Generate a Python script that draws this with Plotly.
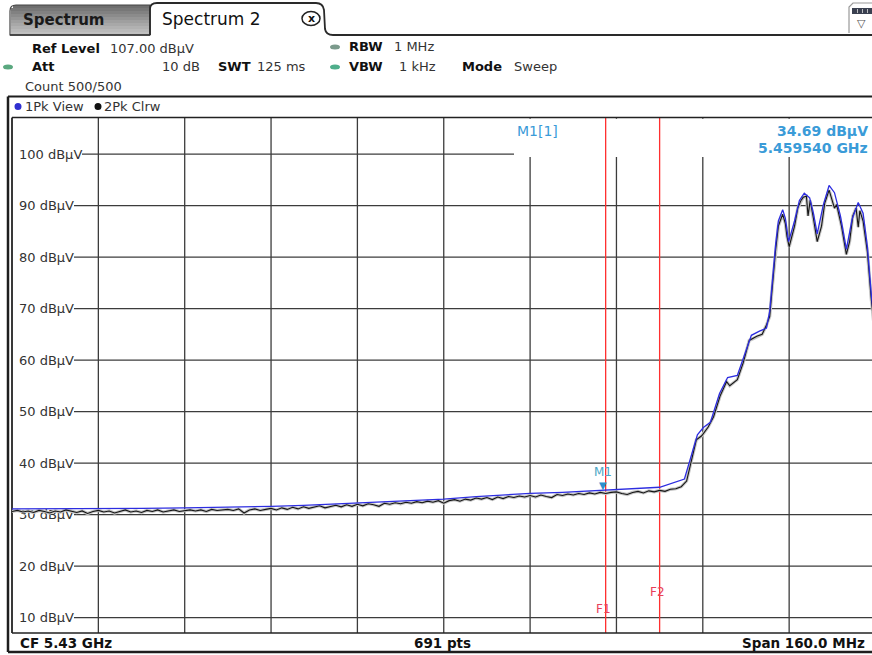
import plotly.graph_objects as go

# ---------------- data ----------------
# Trace 1 (1Pk View, max hold) : frequency in MHz, level in dBuV
freq_view = [5350, 5358, 5366, 5374, 5382, 5390, 5398, 5404, 5410, 5416, 5422,
             5430, 5436, 5442, 5446, 5452, 5459.54, 5465, 5470, 5474.6,
             5475.5, 5477.0, 5478.1, 5479.4, 5481.1, 5482.6, 5484.4, 5485.7,
             5487.0, 5488.5, 5489.8, 5490.4, 5490.9, 5491.5, 5492.0, 5492.8,
             5493.3, 5493.9, 5495.0, 5495.9, 5496.8, 5497.8, 5498.5, 5499.2,
             5500.3, 5501.4, 5502.4, 5503.5, 5504.6, 5505.7, 5506.8, 5507.7,
             5508.5, 5509.2, 5510.0]
level_view = [31.1, 31.1, 31.2, 31.2, 31.3, 31.4, 31.6, 31.8, 32.1, 32.4, 32.7,
              33.0, 33.5, 33.9, 34.1, 34.3, 34.69, 35.0, 35.3, 36.9,
              40.0, 45.5, 46.9, 47.9, 53.5, 56.6, 57.0, 61.0,
              64.8, 65.6, 66.2, 69.5, 75.5, 82.5, 87.0, 89.2,
              87.5, 83.0, 87.0, 91.0, 92.4, 91.5, 88.5, 84.5,
              90.0, 93.9, 92.5, 88.0, 81.5, 87.5, 90.6, 88.5,
              82.0, 73.0, 65.0]

# Trace 2 (2Pk Clrw) : noise floor on 1 MHz sweep bins, then the channel
freq_clrw_floor = list(range(5350, 5475))
level_clrw_floor = [
    30.6, 30.8, 30.5, 30.7, 30.4, 30.8, 30.6, 30.3,
    30.7, 30.5, 30.9, 30.6, 30.4, 30.7, 30.2, 30.6,
    30.8, 30.5, 30.7, 30.3, 30.6, 30.9, 30.5, 30.7,
    30.4, 30.8, 30.6, 30.9, 30.5, 30.7, 30.9, 30.6,
    30.8, 30.9, 30.7, 30.9, 30.6, 31.0, 30.8, 30.9,
    31.0, 30.8, 31.1, 30.3, 30.9, 31.1, 30.8, 31.0,
    31.2, 30.9, 31.3, 31.0, 31.4, 31.1, 31.5, 31.2,
    31.4, 31.7, 31.3, 31.6, 31.8, 31.5, 31.9, 31.6,
    32.0, 31.7, 32.1, 31.9, 31.6, 32.2, 32.0, 32.3,
    32.1, 32.4, 32.2, 32.5, 32.3, 32.6, 32.4, 32.7,
    32.2, 32.7, 32.9, 32.6, 33.0, 32.8, 33.2, 33.0,
    33.3, 32.9, 33.4, 33.1, 33.5, 33.3, 33.6, 33.4,
    33.7, 33.4, 33.8, 33.5, 33.3, 33.9, 33.7, 34.0,
    33.8, 34.1, 33.9, 34.2, 34.0, 34.3, 34.1, 34.3,
    34.4, 34.1, 33.9, 34.3, 34.5, 34.2, 34.6, 34.4,
    34.7, 34.5, 34.9, 35.0, 35.4]
freq_clrw_band = [5475.0, 5475.7, 5476.8, 5477.8, 5479.0, 5480.0, 5481.2, 5482.4,
                  5483.0, 5484.4, 5485.5, 5486.6, 5488.0, 5489.0, 5489.8, 5490.4,
                  5490.9, 5491.5, 5492.0, 5492.8, 5493.3, 5493.6, 5494.0, 5494.4,
                  5495.0, 5495.6, 5496.2, 5496.6, 5497.2, 5497.5, 5497.9, 5498.5,
                  5499.2, 5500.0, 5500.6, 5501.4, 5502.0, 5502.4, 5502.8, 5503.7,
                  5504.6, 5505.2, 5505.8, 5506.4, 5506.8, 5507.1, 5507.7, 5508.5,
                  5509.2, 5510.0]
level_clrw_band = [36.5, 39.5, 44.5, 45.3, 47.0, 49.0, 53.0, 55.8,
                   55.0, 56.2, 59.5, 63.8, 64.6, 65.0, 66.8, 68.5,
                   74.5, 81.5, 86.0, 88.3, 86.5, 84.0, 82.0, 83.5,
                   86.0, 89.5, 91.0, 91.6, 91.8, 88.0, 91.0, 87.5,
                   83.0, 86.0, 90.5, 93.0, 91.0, 89.5, 90.2, 86.0,
                   80.5, 83.0, 88.0, 89.5, 85.8, 89.0, 87.0, 81.0,
                   72.0, 64.0]
freq_clrw = freq_clrw_floor + freq_clrw_band
level_clrw = level_clrw_floor + level_clrw_band

# display settings of the analyzer
center_mhz = 5430.0
span_mhz = 160.0
ref_level = 107.0
range_db = 100.0
y_ticks = [10, 20, 30, 40, 50, 60, 70, 80, 90, 100]
y_tick_text = [f"{v} dBµV" for v in y_ticks]
marker_freq = 5459.54
marker_level = 34.69
f1_freq = 5460.0
f2_freq = 5470.0

# ---------------- geometry ----------------
W, H = 872, 655
L, R, T, B = 12, 0, 118, 22
PW, PH = W - L - R, H - T - B
DIV_PX = 863.5                      # pixels per 160 MHz span
x_lo = center_mhz - span_mhz / 2
x_hi = x_lo + span_mhz * PW / DIV_PX
y_lo, y_hi = ref_level - range_db, ref_level
FONT = "DejaVu Sans"


def X(p):
    return (p - L) / PW


def Y(p):
    return (H - B - p) / PH


def FX(f):
    return (f - x_lo) / (x_hi - x_lo)


def path(pts, close=False):
    s = "M " + " L ".join(f"{X(a):.5f},{Y(b):.5f}" for a, b in pts)
    return s + (" Z" if close else "")


shapes = []
ann = []


def line(x0, y0, x1, y1, color="#2a2a2a", width=1.3):
    shapes.append(dict(type="line", xref="paper", yref="paper", layer="below",
                       x0=x0, y0=y0, x1=x1, y1=y1,
                       line=dict(color=color, width=width)))


def rect(x0, y0, x1, y1, fill, lc="rgba(0,0,0,0)", lw=0):
    shapes.append(dict(type="rect", xref="paper", yref="paper", layer="below",
                       x0=X(x0), y0=Y(y0), x1=X(x1), y1=Y(y1),
                       fillcolor=fill, line=dict(color=lc, width=lw)))


def text(x, y, s, size=13, bold=False, color="#333", anchor="left"):
    ann.append(dict(xref="paper", yref="paper", x=X(x), y=Y(y),
                    text=f"<b>{s}</b>" if bold else s, showarrow=False,
                    xanchor=anchor, yanchor="middle",
                    font=dict(family=FONT, size=size, color=color)))


# ---------------- grid ----------------
f = x_lo
while f <= x_hi + 1e-9:
    line(FX(f), Y(118), FX(f), Y(633), "#3c3c3c", 1.3)
    f += span_mhz / 10
for v in y_ticks:
    start = 82 if v >= 100 else 74
    line(X(start), (v - y_lo) / (y_hi - y_lo), 1.05, (v - y_lo) / (y_hi - y_lo), "#3c3c3c", 1.3)

# marker readout field
rect(514, 118.8, 880, 157, "white")

# display lines F1 / F2
for fl in (f1_freq, f2_freq):
    line(FX(fl), Y(118), FX(fl), Y(633), "#ff3030", 1.3)

# frame lines
line(X(12), Y(117.5), X(880), Y(117.5), "#222", 1.5)
line(X(12), Y(117.5), X(12), Y(633), "#222", 1.5)
line(X(12), Y(633), X(880), Y(633), "#222", 1.5)
line(X(8), Y(96.5), X(880), Y(96.5), "#1e1e1e", 2)
line(X(8), Y(96.5), X(8), Y(652), "#1e1e1e", 2.5)
line(X(8), Y(652), X(880), Y(652), "#1e1e1e", 2.5)

# ---------------- tabs ----------------
greys = ["#6e6e6e", "#777", "#818181", "#8b8b8b", "#959595", "#9f9f9f",
         "#a8a8a8", "#b1b1b1", "#b9b9b9", "#c0c0c0"]
for i, g in enumerate(greys):
    rect(11 if i else 13, 5 + i * 3, 150, 5 + (i + 1) * 3 + 0.5, g)
shapes.append(dict(type="path", xref="paper", yref="paper", layer="below",
                   path=f"M {X(10)},{Y(35)} L {X(10)},{Y(11)} Q {X(10)},{Y(5)} {X(16)},{Y(5)} "
                        f"L {X(150)},{Y(5)} L {X(150)},{Y(35)} Z",
                   line=dict(color="#444", width=1.2)))
shapes.append(dict(type="path", xref="paper", yref="paper", layer="below",
                   path=f"M {X(150)},{Y(35)} L {X(150)},{Y(9)} Q {X(150)},{Y(3)} {X(157)},{Y(3)} "
                        f"L {X(316)},{Y(3)} Q {X(323)},{Y(3)} {X(324)},{Y(10)} "
                        f"L {X(325)},{Y(29)} Q {X(326)},{Y(35)} {X(333)},{Y(35)} L {X(880)},{Y(35)}",
                   line=dict(color="#2a2a2a", width=1.8)))
line(X(10), Y(35), X(150), Y(35), "#333", 1.5)
text(21, 20, "Spectrum", 15, True, "#1a1a1a")
text(160, 19, "Spectrum 2", 17, False, "#111")
shapes.append(dict(type="circle", xref="paper", yref="paper", layer="below",
                   x0=X(302), y0=Y(11.5), x1=X(320), y1=Y(25.5),
                   line=dict(color="#222", width=1.5)))
text(311, 18.3, "x", 11, True, "#111", "center")

# icon at top right
shapes.append(dict(type="path", xref="paper", yref="paper", layer="below",
                   path=path([(849, 33), (849, 7), (853, 3), (880, 3)]),
                   line=dict(color="#999", width=1.2)))
rect(852, 8, 872, 14, "#3a4050")
for xx in (857, 862, 867):
    rect(xx, 9, xx + 0.8, 13, "#ddd")
text(861, 24, "▽", 11, False, "#555", "center")

# ---------------- header ----------------
for (cx, cy, c) in [(335, 47, "#7b9a8c"), (335, 67, "#4fae8b"), (8, 67, "#5aa87f")]:
    shapes.append(dict(type="circle", xref="paper", yref="paper", layer="below",
                       x0=X(cx - 5), y0=Y(cy - 2.5), x1=X(cx + 5), y1=Y(cy + 2.5),
                       fillcolor=c, line=dict(width=0)))
text(30, 48, "Ref Level", 13, True, "#111")
text(108, 48, "107.00 dBµV", 13)
text(347, 47, "RBW", 13, True, "#111")
text(392, 47, "1 MHz", 13)
text(30, 67, "Att", 13, True, "#111")
text(160, 67, "10 dB", 13)
text(216, 67, "SWT", 13, True, "#111")
text(255, 67, "125 ms", 13)
text(347, 67, "VBW", 13, True, "#111")
text(397, 67, "1 kHz", 13)
text(460, 67, "Mode", 13, True, "#111")
text(512, 67, "Sweep", 13)
text(23, 86.5, "Count 500/500", 13)

# trace legend row
shapes.append(dict(type="circle", xref="paper", yref="paper", layer="below",
                   x0=X(14.5), y0=Y(103), x1=X(21.5), y1=Y(110),
                   fillcolor="#2f2fd0", line=dict(width=0)))
shapes.append(dict(type="circle", xref="paper", yref="paper", layer="below",
                   x0=X(94.5), y0=Y(103), x1=X(101.5), y1=Y(110),
                   fillcolor="#111", line=dict(width=0)))
text(23, 107, "1Pk View", 13)
text(102, 107, "2Pk Clrw", 13)

# bottom status bar
text(18, 642.5, "CF 5.43 GHz", 13.5, True, "#111")
text(412, 642.5, "691 pts", 13.5, True, "#111")
text(740, 642.5, "Span 160.0 MHz", 13.5, True, "#111")

# marker readout (right-aligned in the readout field)
mk = "#3a9bd8"
text(515, 131, "M1[1]", 14, False, mk)
text(870, 131, f"{marker_level:.2f} dBµV", 14, True, mk, "right")
text(870, 148, f"{marker_freq / 1000:.6f} GHz", 14, True, mk, "right")

# ---------------- traces ----------------
fig = go.Figure()
fig.add_trace(go.Scatter(x=freq_clrw, y=level_clrw, mode="lines",
                         line=dict(color="#c4c4c4", width=3.2),
                         hoverinfo="skip", showlegend=False))
fig.add_trace(go.Scatter(x=freq_clrw, y=level_clrw, mode="lines", name="2Pk Clrw",
                         line=dict(color="#151515", width=1.1), showlegend=False))
fig.add_trace(go.Scatter(x=freq_view, y=level_view, mode="lines", name="1Pk View",
                         line=dict(color="#2d2de0", width=1.3), showlegend=False))

# marker M1 and display-line labels
ann.append(dict(x=marker_freq, y=marker_level, xref="x", yref="y", text="▼",
                showarrow=False, yanchor="bottom", yshift=-3,
                font=dict(family=FONT, size=10, color="#2b8fcf")))
ann.append(dict(x=marker_freq, y=marker_level, xref="x", yref="y", text="M1",
                showarrow=False, yanchor="bottom", yshift=9, xshift=0,
                font=dict(family=FONT, size=12, color="#4ba6c6")))
ann.append(dict(x=f1_freq, y=Y(609), xref="x", yref="paper", text="F1",
                showarrow=False, yanchor="middle", xshift=-2,
                font=dict(family=FONT, size=12, color="#e8405a")))
ann.append(dict(x=f2_freq, y=Y(592), xref="x", yref="paper", text="F2",
                showarrow=False, yanchor="middle", xshift=-2,
                font=dict(family=FONT, size=12, color="#e8405a")))

fig.update_layout(
    width=W, height=H, autosize=False,
    margin=dict(l=L, r=R, t=T, b=B, pad=0),
    paper_bgcolor="white", plot_bgcolor="rgba(0,0,0,0)",
    shapes=shapes, annotations=ann, showlegend=False,
    xaxis=dict(range=[x_lo, x_hi], showgrid=False, zeroline=False,
               showticklabels=False, ticks="", showline=False, fixedrange=True),
    yaxis=dict(range=[y_lo, y_hi], showgrid=False, zeroline=False,
               tickvals=y_ticks, ticktext=y_tick_text, ticks="",
               ticklabelposition="inside", ticklabelstandoff=4,
               tickfont=dict(family=FONT, size=13, color="#333"),
               layer="below traces", showline=False, fixedrange=True),
)

fig.write_html("out.html", config={"displayModeBar": False})
